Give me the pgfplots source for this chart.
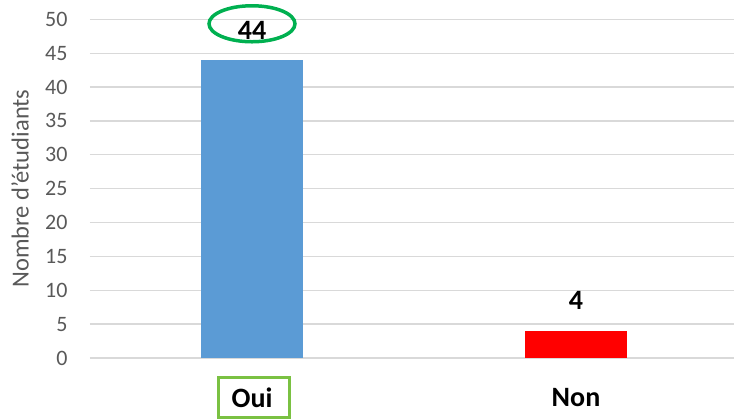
\documentclass[border=0pt]{standalone}
\usepackage{pgfplots}
\pgfplotsset{compat=1.18}
\usepackage{fontspec}
\setmainfont{Carlito}
\definecolor{barblue}{HTML}{5B9BD5}
\definecolor{barred}{HTML}{FF0000}
\definecolor{gridgray}{HTML}{D9D9D9}
\definecolor{txtgray}{HTML}{595959}
\definecolor{ellgreen}{HTML}{00B050}
\definecolor{boxgreen}{HTML}{7AC142}
\begin{document}
\begin{tikzpicture}[x=1pt,y=1pt]
\useasboundingbox (0,0) rectangle (734,419);
\clip (0,0) rectangle (734,419);
\begin{axis}[
  at={(90pt,61pt)}, anchor=south west,
  scale only axis, width=644pt, height=338.7pt,
  xmin=-0.5, xmax=1.48765, ymin=0, ymax=50,
  ytick={0,5,...,50},
  xtick={0,1}, xticklabels={Oui,Non},
  ymajorgrids, grid style={gridgray, line width=1.3pt},
  axis line style={draw=none}, major tick length=0pt,
  ybar, bar width=102pt, bar shift=0pt,
  clip=false,
  /pgf/number format/assume math mode=true,
  yticklabel style={font=\fontsize{22}{26}\selectfont, text=txtgray, anchor=east, xshift=-19pt},
  xticklabel style={font=\fontsize{28}{32}\selectfont\bfseries, text=black, anchor=center, yshift=-39.5pt},
  ylabel={Nombre d'étudiants},
  every axis y label/.style={at={(axis description cs:-0.1087,0.5)}, rotate=90, anchor=center, font=\fontsize{24.5}{28}\selectfont, text=txtgray},
  nodes near coords,
  every node near coord/.append style={font=\fontsize{28}{32}\selectfont\bfseries, text=black, anchor=center, yshift=30pt},
]
\addplot[fill=barblue, draw=none] coordinates {(0,44)};
\addplot[fill=barred, draw=none] coordinates {(1,4)};
\draw[ellgreen, line width=3.5pt] (axis cs:0,49.34) ellipse [x radius=43pt, y radius=18pt];
\draw[boxgreen, line width=3.5pt] (axis cs:-0.103,-2.88) rectangle (axis cs:0.116,-8.76);
\end{axis}
\end{tikzpicture}
\end{document}
